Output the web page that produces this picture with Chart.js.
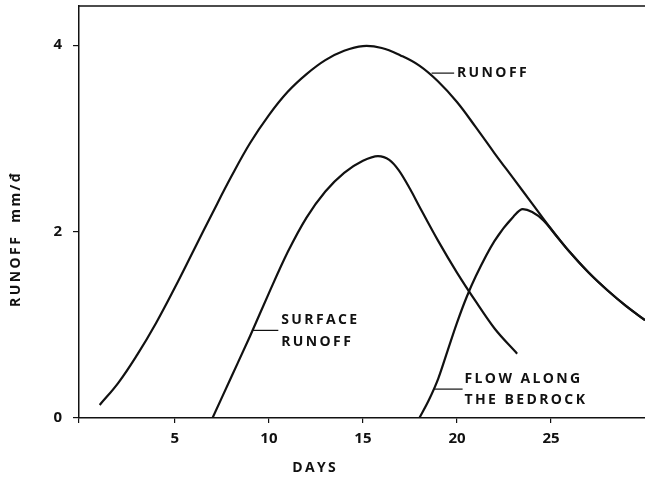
<!DOCTYPE html>
<html>
<head>
<meta charset="utf-8">
<script src="https://cdn.jsdelivr.net/npm/chart.js@4/dist/chart.umd.min.js"></script>
<style>
  html, body { margin: 0; padding: 0; background: #fff; }
  #wrap { width: 645px; height: 479px; position: relative; }
</style>
</head>
<body>
<div id="wrap"><canvas id="c"></canvas></div>
<script>
// ---- data ----
const runoffDays   = [1, 2, 3, 4, 5, 6, 7, 8, 9, 10, 11, 12, 13, 14, 15, 16, 17, 18, 19, 20, 21, 22, 23, 24, 25, 26, 27, 28, 29, 30];
const runoffValues = [0.14, 0.38, 0.68, 1.02, 1.40, 1.80, 2.20, 2.59, 2.95, 3.25, 3.50, 3.69, 3.84, 3.94, 3.99, 3.97, 3.89, 3.78, 3.61, 3.39, 3.12, 2.84, 2.57, 2.30, 2.03, 1.78, 1.56, 1.37, 1.20, 1.05];

const surfaceDays   = [7, 8, 9, 10, 11, 12, 13, 14, 15, 15.8, 16.4, 16.9, 17.5, 18, 19, 20, 21, 22, 23.2];
const surfaceValues = [0, 0.44, 0.88, 1.34, 1.78, 2.15, 2.43, 2.63, 2.76, 2.81, 2.77, 2.66, 2.46, 2.27, 1.90, 1.56, 1.25, 0.96, 0.69];

const bedrockDays   = [18, 18.5, 19, 19.5, 20, 20.5, 21, 22, 23, 23.5, 24, 24.6, 25.3, 26, 27, 28, 29, 30];
const bedrockValues = [0, 0.19, 0.42, 0.72, 1.02, 1.29, 1.52, 1.90, 2.16, 2.24, 2.21, 2.12, 1.95, 1.78, 1.56, 1.37, 1.20, 1.05];

const xTickValues = [0, 5, 10, 15, 20, 25];
const yTickValues = [0, 2, 4];

const seriesNames = ['RUNOFF', 'SURFACE RUNOFF', 'FLOW ALONG THE BEDROCK'];

// ---- label placement (data coordinates) ----
const annotations = [
  { lines: ['RUNOFF'], x1: 18.65, x2: 19.85, y: 3.70, tx: 20.0, ty: [3.70] },
  { lines: ['SURFACE', 'RUNOFF'], x1: 9.15, x2: 10.5, y: 0.94, tx: 10.65, ty: [1.05, 0.82] },
  { lines: ['FLOW ALONG', 'THE BEDROCK'], x1: 18.8, x2: 20.3, y: 0.31, tx: 20.4, ty: [0.42, 0.19] }
];

const toXY = (xs, ys) => xs.map((x, i) => ({ x: x, y: ys[i] }));
const INK = '#111111';
const FONT = '"Open Sans", "DejaVu Sans", sans-serif';

const decor = {
  id: 'decor',
  afterDraw(chart) {
    const { ctx, chartArea, scales } = chart;
    const xs = scales.x, ys = scales.y;
    ctx.save();
    // top frame line
    ctx.strokeStyle = INK;
    ctx.lineWidth = 1.5;
    ctx.beginPath();
    ctx.moveTo(chartArea.left, chartArea.top);
    ctx.lineTo(chartArea.right, chartArea.top);
    ctx.stroke();

    ctx.fillStyle = INK;
    ctx.font = 'bold 14px ' + FONT;
    ctx.letterSpacing = '2.4px';
    ctx.textBaseline = 'middle';
    ctx.textAlign = 'left';
    ctx.lineWidth = 1.2;
    annotations.forEach(a => {
      const py = ys.getPixelForValue(a.y);
      ctx.beginPath();
      ctx.moveTo(xs.getPixelForValue(a.x1), py);
      ctx.lineTo(xs.getPixelForValue(a.x2), py);
      ctx.stroke();
      a.lines.forEach((t, i) => {
        ctx.fillText(t, xs.getPixelForValue(a.tx), ys.getPixelForValue(a.ty[i]));
      });
    });

    // axis titles
    const dw = ctx.measureText('DAYS').width;
    ctx.fillText('DAYS', 314 - dw / 2 + 1.2, 468);

    ctx.save();
    ctx.translate(16, 240);
    ctx.rotate(-Math.PI / 2);
    const ytitle = 'RUNOFF  mm/đ';
    const yw = ctx.measureText(ytitle).width;
    ctx.fillText(ytitle, -yw / 2 + 1.2, 0);
    ctx.restore();
    ctx.restore();
  }
};

new Chart(document.getElementById('c'), {
  type: 'line',
  data: {
    datasets: [
      { label: seriesNames[0], data: toXY(runoffDays, runoffValues), tension: 0.4 },
      { label: seriesNames[1], data: toXY(surfaceDays, surfaceValues), cubicInterpolationMode: 'monotone' },
      { label: seriesNames[2], data: toXY(bedrockDays, bedrockValues), cubicInterpolationMode: 'monotone' }
    ].map(d => Object.assign(d, {
      borderColor: INK,
      borderWidth: 2.2,
      pointRadius: 0,
      fill: false
    }))
  },
  options: {
    responsive: true,
    maintainAspectRatio: false,
    animation: false,
    devicePixelRatio: 1,
    layout: { padding: { top: 6, right: 0, left: 0, bottom: 0 } },
    plugins: { legend: { display: false }, tooltip: { enabled: false }, title: { display: false } },
    scales: {
      x: {
        type: 'linear',
        min: -0.1,
        max: 30,
        afterFit(s) { s.height = 61; s.paddingLeft = 0; s.paddingRight = 0; },
        afterBuildTicks(s) { s.ticks = xTickValues.map(v => ({ value: v === 0 ? -0.1 : v })); },
        ticks: {
          autoSkip: false,
          maxRotation: 0,
          padding: 7,
          color: INK,
          font: { family: FONT, size: 15, weight: 'bold' },
          callback: v => (v > 0 ? String(v) : '')
        },
        grid: { drawOnChartArea: false, drawTicks: true, tickLength: 5, color: INK, lineWidth: 1.2 },
        border: { display: true, color: INK, width: 1.5 }
      },
      y: {
        type: 'linear',
        min: 0,
        max: 4.42,
        afterFit(s) { s.width = 79; s.paddingTop = 0; s.paddingBottom = 0; },
        afterBuildTicks(s) { s.ticks = yTickValues.map(v => ({ value: v })); },
        ticks: {
          padding: 11,
          color: INK,
          font: { family: FONT, size: 15, weight: 'bold' },
          callback: v => String(v)
        },
        grid: { drawOnChartArea: false, drawTicks: true, tickLength: 6, color: INK, lineWidth: 1.2 },
        border: { display: true, color: INK, width: 1.5 }
      }
    }
  },
  plugins: [decor]
});
</script>
</body>
</html>
